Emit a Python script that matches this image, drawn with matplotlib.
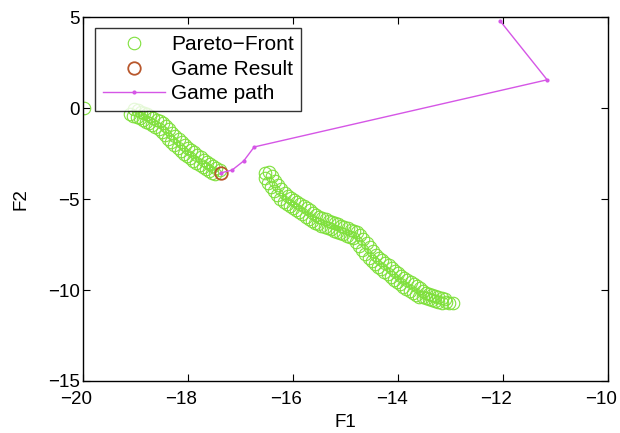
import matplotlib
matplotlib.use("Agg")
import matplotlib.pyplot as plt
from matplotlib.transforms import ScaledTranslation

plt.rcParams['font.family'] = ['Liberation Sans', 'DejaVu Sans']

# Pareto front, first branch (F1, F2), including the isolated point at F1 = -20
front1_f1 = [-19.98,
             -19.02, -19.10, -18.96, -19.04, -18.90, -18.98, -18.84, -18.92,
             -18.78, -18.86, -18.72, -18.80, -18.66, -18.74, -18.60, -18.68,
             -18.54, -18.62, -18.48, -18.56, -18.42, -18.50, -18.36, -18.44,
             -18.30, -18.38, -18.24, -18.32, -18.18, -18.26, -18.12, -18.20,
             -18.06, -18.14, -18.00, -18.08, -17.94, -18.02, -17.88, -17.96,
             -17.82, -17.90, -17.76, -17.84, -17.70, -17.78, -17.64, -17.72,
             -17.58, -17.66, -17.52, -17.60, -17.46, -17.54, -17.40, -17.48]
front1_f2 = [0.00,
             -0.05, -0.33, -0.13, -0.42, -0.20, -0.50, -0.27, -0.57,
             -0.35, -0.65, -0.43, -0.75, -0.53, -0.85, -0.64, -0.96,
             -0.74, -1.06, -0.85, -1.17, -1.00, -1.32, -1.18, -1.50,
             -1.36, -1.68, -1.53, -1.85, -1.71, -2.03, -1.89, -2.21,
             -2.05, -2.37, -2.18, -2.50, -2.31, -2.63, -2.44, -2.76,
             -2.57, -2.89, -2.70, -3.02, -2.83, -3.15, -2.94, -3.26,
             -3.05, -3.37, -3.16, -3.48, -3.27, -3.57, -3.40, -3.64]

# Pareto front, second branch (F1, F2)
front2_f1 = [-16.53,
             -16.46, -16.54, -16.40, -16.48, -16.34, -16.42, -16.28, -16.36,
             -16.22, -16.30, -16.16, -16.24, -16.10, -16.18, -16.04, -16.12,
             -15.98, -16.06, -15.92, -16.00, -15.86, -15.94, -15.80, -15.88,
             -15.74, -15.82, -15.68, -15.76, -15.62, -15.70, -15.56, -15.64,
             -15.50, -15.58, -15.44, -15.52, -15.38, -15.46, -15.32, -15.40,
             -15.26, -15.34, -15.20, -15.28, -15.14, -15.22, -15.08, -15.16,
             -15.02, -15.10, -14.96, -15.04, -14.90, -14.98, -14.84, -14.92,
             -14.78, -14.86, -14.72, -14.80, -14.66, -14.74, -14.60, -14.68,
             -14.54, -14.62, -14.48, -14.56, -14.42, -14.50, -14.36, -14.44,
             -14.30, -14.38, -14.24, -14.32, -14.18, -14.26, -14.12, -14.20,
             -14.06, -14.14, -14.00, -14.08, -13.94, -14.02, -13.88, -13.96,
             -13.82, -13.90, -13.76, -13.84, -13.70, -13.78, -13.64, -13.72,
             -13.58, -13.66, -13.52, -13.60, -13.47, -13.53, -13.41, -13.47,
             -13.35, -13.41, -13.29, -13.35, -13.23, -13.29, -13.17, -13.23,
             -13.11, -13.17, -13.08, -13.02, -12.96]
front2_f2 = [-3.58,
             -3.53, -3.87, -3.76, -4.10, -3.99, -4.33, -4.22, -4.56,
             -4.45, -4.79, -4.68, -5.02, -4.82, -5.16, -4.93, -5.27,
             -5.05, -5.39, -5.17, -5.51, -5.28, -5.62, -5.40, -5.74,
             -5.51, -5.85, -5.63, -5.97, -5.75, -6.09, -5.86, -6.20,
             -5.98, -6.32, -6.05, -6.39, -6.12, -6.46, -6.19, -6.53,
             -6.26, -6.60, -6.33, -6.67, -6.40, -6.74, -6.47, -6.81,
             -6.54, -6.88, -6.61, -6.95, -6.68, -7.02, -6.75, -7.09,
             -6.82, -7.16, -7.00, -7.34, -7.22, -7.56, -7.44, -7.78,
             -7.66, -8.00, -7.88, -8.22, -8.08, -8.42, -8.22, -8.56,
             -8.37, -8.71, -8.51, -8.85, -8.65, -8.99, -8.80, -9.14,
             -8.94, -9.28, -9.09, -9.43, -9.23, -9.57, -9.35, -9.69,
             -9.47, -9.81, -9.58, -9.92, -9.69, -10.03, -9.80, -10.14,
             -9.91, -10.25, -10.03, -10.37, -10.17, -10.41, -10.22, -10.46,
             -10.27, -10.51, -10.32, -10.56, -10.37, -10.61, -10.42, -10.66,
             -10.49, -10.69, -10.64, -10.69, -10.72]

# Game path iterations
path_f1 = [-12.06, -11.16, -16.74, -16.94, -17.16, -17.38]
path_f2 = [4.80, 1.55, -2.14, -2.91, -3.41, -3.57]

# Final game result
result_f1 = [-17.38]
result_f2 = [-3.57]

xticks = [-20, -18, -16, -14, -12, -10]
yticks = [-15, -10, -5, 0, 5]

fig = plt.figure(figsize=(6.2, 4.33), dpi=100)
ax = fig.add_axes([0.1339, 0.1201, 0.8468, 0.8406])

green = '#7fe03c'
ax.plot(front1_f1 + front2_f1, front1_f2 + front2_f2, linestyle='none',
        marker='o', markersize=9, markerfacecolor='none',
        markeredgecolor=green, markeredgewidth=0.8, label='Pareto\u2212Front')
ax.plot(result_f1, result_f2, linestyle='none', marker='o', markersize=9,
        markerfacecolor='none', markeredgecolor='#b8572c', markeredgewidth=1.3,
        label='Game Result')
ax.plot(path_f1, path_f2, color='#d556e6', linewidth=1.0, marker='o',
        markersize=3, markeredgewidth=0, label='Game path')

ax.set_xlim(-20, -10)
ax.set_ylim(-15, 5)
ax.set_xticks(xticks)
ax.set_yticks(yticks)
ax.set_xticklabels([str(t).replace('-', '\u2212') for t in xticks])
ax.set_yticklabels([str(t).replace('-', '\u2212') for t in yticks])
ax.tick_params(direction='in', top=True, right=True, length=5, width=0.8,
               labelsize=13.5)
ax.tick_params(axis='x', pad=7.5)
ax.tick_params(axis='y', pad=2.5)

# x tick labels sit slightly left of their ticks
shift = ScaledTranslation(-6.5 / 100, 0, fig.dpi_scale_trans)
for lbl in ax.get_xticklabels():
    lbl.set_transform(lbl.get_transform() + shift)

for s in ax.spines.values():
    s.set_linewidth(1.0)

ax.set_xlabel('F1', fontsize=13.5, labelpad=4)
ax.set_ylabel('F2', fontsize=13.5, labelpad=13)

leg = ax.legend(loc='upper left', bbox_to_anchor=(0.0229, 0.970), borderaxespad=0,
                fontsize=15, frameon=True, fancybox=False, handlelength=3.0,
                handletextpad=0.29, labelspacing=0.26, borderpad=0.36)
leg.get_frame().set_edgecolor('black')
leg.get_frame().set_linewidth(1.0)

fig.savefig('out.png', dpi=100)
